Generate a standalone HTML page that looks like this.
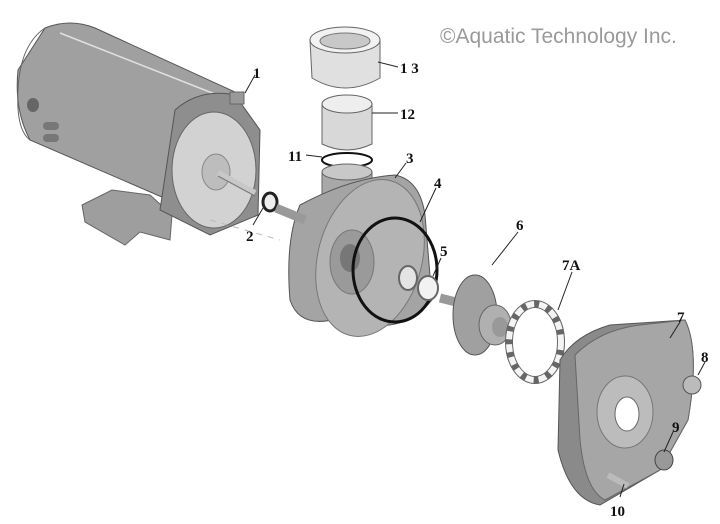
<!DOCTYPE html>
<html><head><meta charset="utf-8"><style>
html,body{margin:0;padding:0;background:#fff;}
svg{display:block}
.n{font-family:"Liberation Serif",serif;font-weight:bold;font-size:15px;fill:#111}
.l{stroke:#222;stroke-width:1;fill:none}
.d{stroke:#999;stroke-width:1;fill:none}
</style></head><body>
<svg width="720" height="524" viewBox="0 0 720 524" xmlns="http://www.w3.org/2000/svg">
<text x="440" y="43" font-family="Liberation Sans,sans-serif" font-size="21" fill="#9a9a9a">©Aquatic Technology Inc.</text>
<!-- motor base -->
<polygon points="82,205 112,190 150,195 172,215 170,240 140,232 125,245 85,222" fill="#9e9e9e" stroke="#666"/>
<!-- motor body -->
<path d="M45,28 Q70,18 95,28 L235,92 L215,220 L30,140 Q14,110 18,70 Z" fill="#a0a0a0" stroke="#555"/>
<path d="M60,33 L230,100" stroke="#e0e0e0" stroke-width="1.5"/>
<path d="M45,28 Q20,45 18,90 Q16,130 30,140" fill="none" stroke="#666"/>
<ellipse cx="33" cy="105" rx="6" ry="7" fill="#666"/>
<rect x="43" y="122" width="16" height="8" rx="4" fill="#777"/>
<rect x="43" y="134" width="16" height="8" rx="4" fill="#777"/>
<!-- endbell -->
<path d="M175,110 Q200,88 235,95 L260,130 L258,215 L210,235 L160,210 Z" fill="#8e8e8e" stroke="#555"/>
<ellipse cx="214" cy="170" rx="42" ry="58" fill="#d2d2d2" stroke="#666"/>
<ellipse cx="216" cy="172" rx="14" ry="18" fill="#bdbdbd" stroke="#888"/>
<rect x="230" y="92" width="14" height="12" fill="#999" stroke="#666"/>
<!-- shaft -->
<line x1="218" y1="173" x2="255" y2="193" stroke="#c8c8c8" stroke-width="6"/>
<line x1="218" y1="176" x2="255" y2="196" stroke="#777" stroke-width="1"/>
<!-- 2 gasket -->
<ellipse cx="270" cy="202" rx="7" ry="9" fill="#eee" stroke="#222" stroke-width="3"/>
<!-- 13 union nut -->
<path d="M310,40 L312,78 Q345,98 380,78 L380,40 Z" fill="#e0e0e0" stroke="#666"/>
<ellipse cx="345" cy="40" rx="35" ry="13" fill="#f2f2f2" stroke="#666"/>
<ellipse cx="345" cy="41" rx="25" ry="8" fill="#c8c8c8" stroke="#777"/>
<!-- 12 tail -->
<path d="M322,104 L322,144 Q347,156 372,144 L372,104 Z" fill="#d8d8d8" stroke="#666"/>
<ellipse cx="347" cy="104" rx="25" ry="9" fill="#eeeeee" stroke="#666"/>
<!-- 11 oring -->
<ellipse cx="347" cy="160" rx="25" ry="7" fill="none" stroke="#111" stroke-width="2"/>
<!-- 3 volute -->
<path d="M322,172 L322,195 Q347,205 372,195 L372,172 Z" fill="#a8a8a8" stroke="#666"/>
<ellipse cx="347" cy="172" rx="25" ry="8" fill="#c8c8c8" stroke="#666"/>
<path d="M300,205 Q350,178 395,175 Q420,180 425,215 L432,300 Q400,340 340,318 Q300,330 290,300 Q285,240 300,205 Z" fill="#a4a4a4" stroke="#555"/>
<ellipse cx="370" cy="258" rx="52" ry="80" transform="rotate(15 370 258)" fill="#b4b4b4" stroke="#777"/>
<ellipse cx="352" cy="262" rx="22" ry="32" fill="#9a9a9a" stroke="#777"/>
<ellipse cx="350" cy="258" rx="10" ry="14" fill="#777"/>
<line x1="276" y1="208" x2="305" y2="220" stroke="#999" stroke-width="9"/>
<line x1="210" y1="220" x2="280" y2="240" stroke="#bbb" stroke-dasharray="6 6"/>
<!-- 4 oring -->
<ellipse cx="395" cy="270" rx="42" ry="52" fill="none" stroke="#111" stroke-width="3"/>
<!-- 5 seal -->
<ellipse cx="408" cy="278" rx="9" ry="12" fill="#e4e4e4" stroke="#666" stroke-width="2"/>
<ellipse cx="428" cy="288" rx="10" ry="12" fill="#f2f2f2" stroke="#666" stroke-width="2"/>
<!-- 6 impeller -->
<line x1="440" y1="298" x2="468" y2="305" stroke="#999" stroke-width="9"/>
<ellipse cx="475" cy="315" rx="22" ry="40" fill="#a0a0a0" stroke="#555"/>
<ellipse cx="495" cy="325" rx="16" ry="20" fill="#b0b0b0" stroke="#666"/>
<ellipse cx="500" cy="327" rx="8" ry="10" fill="#999"/>
<!-- 7A diffuser ring -->
<ellipse cx="535" cy="342" rx="26" ry="38" fill="none" stroke="#666" stroke-width="8"/>
<ellipse cx="535" cy="342" rx="26" ry="38" fill="none" stroke="#f4f4f4" stroke-width="6" stroke-dasharray="8 5"/>
<!-- 7 seal plate -->
<path d="M560,360 Q575,335 610,325 L685,320 Q700,350 688,420 L660,470 L600,505 Q570,500 558,450 Z" fill="#8a8a8a" stroke="#555"/>
<path d="M575,355 Q600,330 640,325 L685,320 Q700,350 688,420 L660,470 L605,500 Q585,490 580,440 Z" fill="#a6a6a6" stroke="#666"/>
<ellipse cx="625" cy="412" rx="28" ry="36" fill="#bcbcbc" stroke="#777"/>
<ellipse cx="627" cy="414" rx="12" ry="17" fill="#fff" stroke="#666"/>
<!-- 8, 9, 10 -->
<ellipse cx="692" cy="385" rx="9" ry="9" fill="#bbb" stroke="#555"/>
<ellipse cx="664" cy="460" rx="9" ry="10" fill="#999" stroke="#444"/>
<line x1="608" y1="475" x2="628" y2="486" stroke="#bbb" stroke-width="6"/>
<!-- leader lines -->
<path class="l" d="M255,75 L245,93"/>
<path class="l" d="M398,67 L378,62"/>
<path class="l" d="M398,113 L372,113"/>
<path class="l" d="M306,155 L322,157"/>
<path class="l" d="M406,163 L395,178"/>
<path class="l" d="M436,188 L420,222"/>
<path class="l" d="M253,225 L263,208"/>
<path class="l" d="M441,258 L433,276"/>
<path class="l" d="M518,232 L492,265"/>
<path class="l" d="M572,272 L558,310"/>
<path class="l" d="M680,322 L670,338"/>
<path class="l" d="M705,362 L698,375"/>
<path class="l" d="M673,432 L664,452"/>
<path class="l" d="M620,497 L624,484"/>
<!-- labels -->
<text class="n" x="253" y="78">1</text>
<text class="n" x="400" y="73">1 3</text>
<text class="n" x="400" y="119">12</text>
<text class="n" x="288" y="161">11</text>
<text class="n" x="406" y="163">3</text>
<text class="n" x="434" y="188">4</text>
<text class="n" x="246" y="241">2</text>
<text class="n" x="440" y="256">5</text>
<text class="n" x="516" y="230">6</text>
<text class="n" x="562" y="270">7A</text>
<text class="n" x="677" y="322">7</text>
<text class="n" x="701" y="362">8</text>
<text class="n" x="672" y="432">9</text>
<text class="n" x="610" y="516">10</text>
</svg>
</body></html>
